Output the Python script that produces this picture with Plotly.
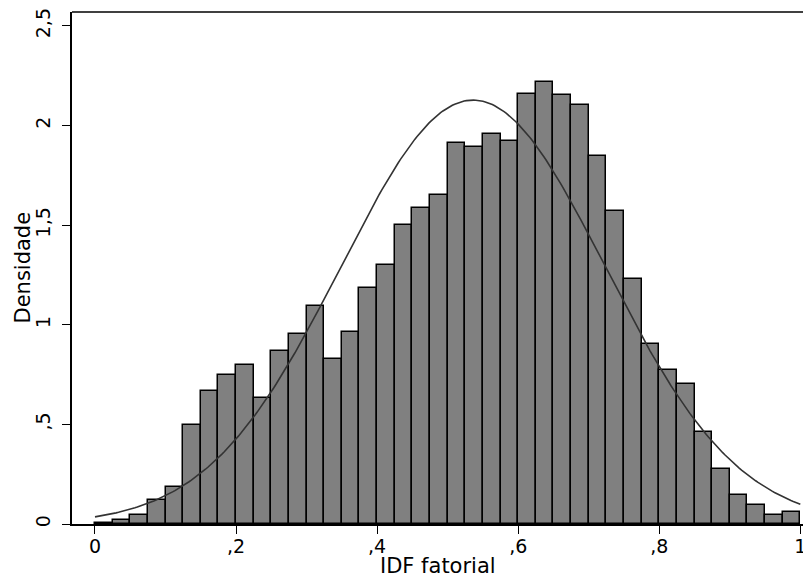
import numpy as np
import plotly.graph_objects as go

# Histogram data (bin width 0.025, 40 bins from 0 to 1)
bin_width = 0.025
bin_starts = [i * bin_width for i in range(40)]
densities = [
    0.005, 0.02, 0.047, 0.12, 0.184, 0.497, 0.67, 0.746, 0.796, 0.632,
    0.868, 0.956, 1.092, 0.828, 0.963, 1.184, 1.299, 1.50, 1.587, 1.653,
    1.911, 1.894, 1.956, 1.924, 2.156, 2.217, 2.153, 2.105, 1.847, 1.573,
    1.229, 0.903, 0.774, 0.701, 0.461, 0.276, 0.144, 0.097, 0.047, 0.06,
]

# Fitted normal density overlay
normal_mean = 0.536
normal_sd = 0.1875

x_ticks = [0, 0.2, 0.4, 0.6, 0.8, 1.0]
x_tick_labels = ["0", ",2", ",4", ",6", ",8", "1"]
y_ticks = [0, 0.5, 1.0, 1.5, 2.0, 2.5]
y_tick_labels = ["0", ",5", "1", "1,5", "2", "2,5"]

bin_centers = [s + bin_width / 2 for s in bin_starts]
xc = np.linspace(0, 1, 301)
yc = np.exp(-0.5 * ((xc - normal_mean) / normal_sd) ** 2) / (normal_sd * np.sqrt(2 * np.pi))

FONT = "DejaVu Sans"

fig = go.Figure()
fig.add_trace(go.Bar(
    x=bin_centers, y=densities, width=bin_width,
    marker=dict(color="#808080", line=dict(color="#000000", width=1.5)),
    showlegend=False, hoverinfo="x+y",
))
fig.add_trace(go.Scatter(
    x=xc, y=yc, mode="lines",
    line=dict(color="#333333", width=1.6),
    showlegend=False,
))

fig.update_layout(
    width=803, height=582,
    margin=dict(l=72, r=0, t=12, b=58),
    paper_bgcolor="white", plot_bgcolor="white",
    font=dict(family=FONT, color="black", size=18),
    bargap=0,
    xaxis=dict(
        range=[-0.0326, 1.0038],
        tickvals=x_ticks, ticktext=x_tick_labels,
        ticks="outside", ticklen=8, tickwidth=1.2, tickcolor="black",
        ticklabelstandoff=-4, ticklabeloverflow="allow",
        showline=True, linecolor="black", linewidth=1.5,
        showgrid=False, zeroline=False, automargin=False,
        tickfont=dict(size=19),
    ),
    yaxis=dict(
        range=[0, 2.570],
        tickvals=y_ticks, ticktext=y_tick_labels,
        ticks="outside", ticklen=8, tickwidth=1.2, tickcolor="black",
        tickangle=-90, ticklabelstandoff=5, ticklabeloverflow="allow",
        showline=True, linecolor="black", linewidth=1.5,
        showgrid=False, zeroline=False, automargin=False,
        tickfont=dict(size=19),
    ),
    shapes=[dict(type="line", xref="paper", yref="paper", x0=0, x1=1, y0=1, y1=1,
                 line=dict(color="black", width=1.5))],
    annotations=[
        dict(text="IDF fatorial", xref="paper", yref="paper", x=0.5, y=-0.083,
             xanchor="center", yanchor="middle", showarrow=False,
             font=dict(size=21)),
        dict(text="Densidade", xref="paper", yref="paper", x=-0.0677, y=0.5,
             xanchor="center", yanchor="middle", showarrow=False, textangle=-90,
             font=dict(size=21)),
    ],
)

fig.write_html(
    "out.html",
    config={"displayModeBar": False},
    post_script="document.body.style.margin='0';document.body.style.padding='0';",
)
